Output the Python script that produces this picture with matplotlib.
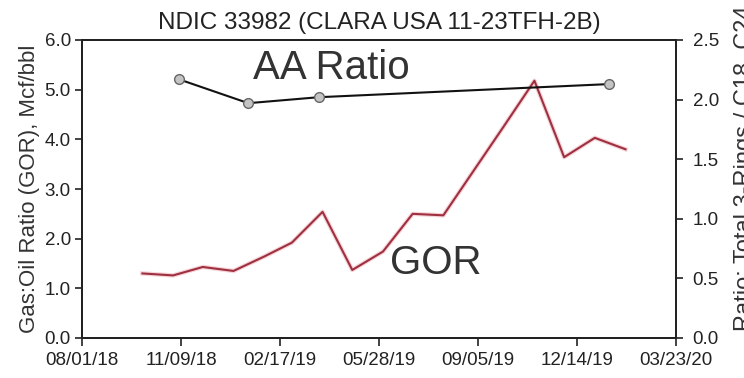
import numpy as np
import matplotlib
matplotlib.use("Agg")
import matplotlib.pyplot as plt
import matplotlib.dates as mdates
from matplotlib.ticker import FormatStrFormatter

plt.rcParams.update({"font.family": ["Liberation Sans", "DejaVu Sans"],
                     "font.size": 13})

INK = "#222222"
TXT = "#333333"
RED = "#9e3040"

# monthly gas:oil ratio, Mcf/bbl
gor_dates = ["2018-10-01", "2018-11-01", "2018-12-01", "2019-01-01",
             "2019-02-01", "2019-03-01", "2019-04-01", "2019-05-01",
             "2019-06-01", "2019-07-01", "2019-08-01", "2019-09-01",
             "2019-10-01", "2019-11-01", "2019-12-01", "2020-01-01",
             "2020-02-01"]
gor_vals = [1.30, 1.26, 1.43, 1.35, 1.64, 1.92, 2.54, 1.37, 1.74, 2.50,
            2.47, 3.38, 4.26, 5.18, 3.64, 4.03, 3.80]

# aromatic ratio samples
aa_dates = ["2018-11-07", "2019-01-16", "2019-03-28", "2020-01-15"]
aa_vals = [2.17, 1.97, 2.02, 2.13]

xticks = ["2018-08-01", "2018-11-09", "2019-02-17", "2019-05-28",
          "2019-09-05", "2019-12-14", "2020-03-23"]

gd = np.array(gor_dates, dtype="datetime64[D]")
ad = np.array(aa_dates, dtype="datetime64[D]")
xt = np.array(xticks, dtype="datetime64[D]")

fig = plt.figure(figsize=(7.44, 3.78), dpi=100)
ax = fig.add_axes([82 / 744, 1 - 338 / 378, 594 / 744, 298 / 378])
ax2 = ax.twinx()

# GOR with a faint halo
ax.plot(gd, gor_vals, color="#f0b8c0", lw=3.2, alpha=0.6, zorder=2)
ax.plot(gd, gor_vals, color=RED, lw=1.5, zorder=3)
ax2.plot(ad, aa_vals, color="#111111", lw=1.5, marker="o", ms=7,
         mfc="#c4c4c4", mec="#666666", mew=1.0, zorder=4)

ax.set_xlim(xt[0], xt[-1])
ax.set_xticks(xt)
ax.xaxis.set_major_formatter(mdates.DateFormatter("%m/%d/%y"))
ax.set_ylim(0, 6)
ax.set_yticks(np.arange(0, 6.1, 1.0))
ax.yaxis.set_major_formatter(FormatStrFormatter("%.1f"))
ax2.set_ylim(0, 2.5)
ax2.set_yticks(np.arange(0, 2.51, 0.5))
ax2.yaxis.set_major_formatter(FormatStrFormatter("%.1f"))

for a in (ax, ax2):
    for s in a.spines.values():
        s.set_color(INK)
        s.set_linewidth(1.4)
    a.tick_params(direction="out", length=5, width=1.2, color=INK,
                  labelcolor=INK, labelsize=13.5, pad=3)
ax.tick_params(axis="x", length=6, pad=4)
ax2.tick_params(axis="y", pad=7)

ax.set_ylabel("Gas:Oil Ratio (GOR), Mcf/bbl", fontsize=16, color=TXT,
              labelpad=3)
fig.text(0.986, 0.985, "Ratio: Total 3-Rings / C18_C24", rotation=90,
         ha="left", va="top", fontsize=17, color=TXT)
ax.set_title("NDIC 33982 (CLARA USA 11-23TFH-2B)", fontsize=17.5,
             color=INK, pad=8)

ax.text(0.42, 0.905, "AA Ratio", transform=ax.transAxes, fontsize=29,
        color=TXT, ha="center", va="center")
ax.text(0.595, 0.253, "GOR", transform=ax.transAxes, fontsize=29,
        color=TXT, ha="center", va="center")

fig.savefig("out.png", dpi=100)
